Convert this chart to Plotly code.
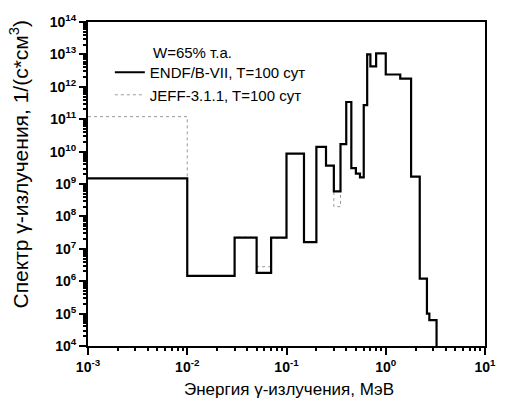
import plotly.graph_objects as go

# Bin left edges (MeV) with final right edge
energy_edges = [0.001, 0.01, 0.03, 0.05, 0.07, 0.1, 0.15, 0.2, 0.25, 0.3, 0.35, 0.4,
                0.45, 0.5, 0.55, 0.6, 0.65, 0.7, 0.8, 1.0, 1.4, 1.8, 2.2, 2.6, 2.75, 3.25]
# ENDF/B-VII spectrum per bin (last value = floor at end)
endf_values = [1.5e9, 1.45e6, 2.2e7, 1.8e6, 2.2e7, 8.7e9, 1.6e7, 1.4e10, 3.7e9, 5.9e8,
               1.7e10, 3.4e11, 3.1e9, 2.1e9, 1.6e9, 2.7e11, 1.0e13, 4.3e12, 1.07e13,
               2.4e12, 1.8e12, 1.7e9, 1.2e6, 1.0e5, 6.3e4, 1e4]
# JEFF-3.1.1 spectrum per bin
jeff_values = [1.2e11, 1.45e6, 2.3e7, 2.8e6, 2.1e7, 8.7e9, 1.6e7, 1.4e10, 3.7e9, 2.0e8,
               1.7e10, 3.4e11, 3.1e9, 2.1e9, 1.6e9, 2.7e11, 1.0e13, 4.3e12, 1.07e13,
               2.4e12, 1.8e12, 1.7e9, 1.2e6, 1.0e5, 6.3e4, 1e4]

series_names = ["ENDF/B-VII, T=100 сут", "JEFF-3.1.1, T=100 сут"]

x_tick_exps = [-3, -2, -1, 0, 1]
y_tick_exps = [4, 5, 6, 7, 8, 9, 10, 11, 12, 13, 14]
x_tick_labels = ["10<sup>%d</sup>" % e for e in x_tick_exps]
y_tick_labels = ["10<sup>%d</sup>" % e for e in y_tick_exps]

x_minor = [k * 10.0 ** p for p in range(-3, 1) for k in range(2, 10)]
y_minor = [k * 10.0 ** p for p in range(4, 14) for k in range(2, 10)]

fig = go.Figure()
fig.add_trace(go.Scatter(x=energy_edges, y=jeff_values, mode="lines", line_shape="hv",
                         line=dict(color="#9a9a9a", width=1, dash="dot"),
                         name=series_names[1], legendrank=2))
fig.add_trace(go.Scatter(x=energy_edges, y=endf_values, mode="lines", line_shape="hv",
                         line=dict(color="black", width=2.2),
                         name=series_names[0], legendrank=1))
# transparent copy hosting the minor-tick overlay axes
fig.add_trace(go.Scatter(x=energy_edges, y=endf_values, xaxis="x2", yaxis="y2",
                         mode="lines", line=dict(color="rgba(0,0,0,0)", width=0),
                         showlegend=False, hoverinfo="skip"))

FONT = "Liberation Sans, Arial, sans-serif"

fig.update_layout(
    width=508, height=398,
    margin=dict(l=88, r=17, t=19, b=52),
    paper_bgcolor="white", plot_bgcolor="white",
    font=dict(family=FONT, color="black"),
    xaxis=dict(type="log", range=[-3, 1],
               tickvals=[10.0 ** e for e in x_tick_exps], ticktext=x_tick_labels,
               ticks="outside", ticklen=7, tickwidth=2, tickcolor="black",
               showline=True, linecolor="black", linewidth=2, mirror=True,
               showgrid=False, zeroline=False,
               tickfont=dict(family=FONT, size=14, color="black", weight="bold")),
    yaxis=dict(type="log", range=[4, 14],
               tickvals=[10.0 ** e for e in y_tick_exps], ticktext=y_tick_labels,
               ticks="outside", ticklen=7, tickwidth=2, tickcolor="black",
               showline=True, linecolor="black", linewidth=2, mirror=True,
               showgrid=False, zeroline=False,
               tickfont=dict(family=FONT, size=14, color="black", weight="bold")),
    xaxis2=dict(type="log", range=[-3, 1], overlaying="x", anchor="y", side="bottom",
                tickvals=x_minor, ticks="outside", ticklen=4, tickwidth=1.5,
                tickcolor="black", showticklabels=False, showgrid=False, zeroline=False),
    yaxis2=dict(type="log", range=[4, 14], overlaying="y", anchor="x", side="left",
                tickvals=y_minor, ticks="outside", ticklen=4, tickwidth=1.5,
                tickcolor="black", showticklabels=False, showgrid=False, zeroline=False),
    showlegend=True,
    legend=dict(x=0.055, y=0.895, xanchor="left", yanchor="top",
                bgcolor="rgba(0,0,0,0)", borderwidth=0,
                font=dict(family=FONT, size=15, color="black"), tracegroupgap=0),
    annotations=[
        dict(text="W=65% т.а.", x=0.158, y=0.905, xref="paper", yref="paper",
             xanchor="left", yanchor="middle", showarrow=False,
             font=dict(family=FONT, size=15, color="black")),
        dict(text="Энергия γ-излучения, МэВ", x=0.507, y=-0.133, xref="paper", yref="paper",
             xanchor="center", yanchor="middle", showarrow=False,
             font=dict(family=FONT, size=17, color="black")),
        dict(text="Спектр γ-излучения, 1/(с*см<sup>3</sup>)", x=-0.174, y=0.56,
             xref="paper", yref="paper", xanchor="center", yanchor="middle",
             textangle=-90, showarrow=False,
             font=dict(family=FONT, size=21, color="black")),
    ],
)

fig.write_html("out.html")
